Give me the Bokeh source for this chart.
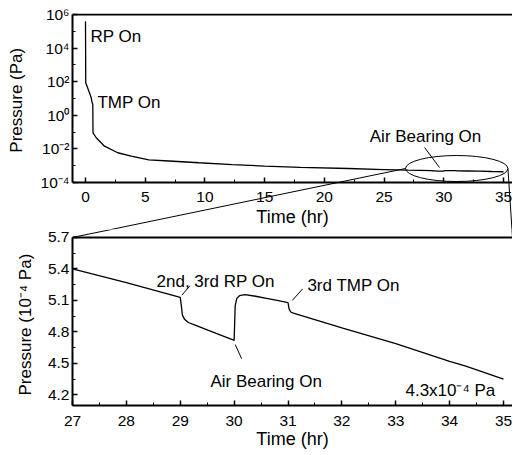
import math
from bokeh.plotting import figure
from bokeh.layouts import column
from bokeh.models import (Range1d, SingleIntervalTicker, FixedTicker,
                          CustomJSTickFormatter, Label)
from bokeh.embed import file_html
from bokeh.resources import INLINE

FONT = "Liberation Sans"

# ---------------- data ----------------
# pump-down, full run (Pa)
top_time = [0.0, 0.02, 0.33, 0.48, 0.53, 0.61, 0.63, 0.9, 1.59, 2.7, 3.83,
            5.3, 7.0, 9.5, 12.3, 15.0, 18.0, 22.0, 25.0]
top_pressure = [4e5, 86, 22, 11, 6.9, 4.4, 0.091, 0.046, 0.0145, 0.0059, 0.0037,
                0.0022, 0.0019, 0.0015, 0.00117, 0.00095, 0.00079, 0.00068, 0.00059]

# zoomed section 27-35 hr (units of 1e-4 Pa)
zoom_time = [27.0, 28.0, 29.0, 29.02, 29.04, 29.08, 29.15, 29.3, 29.5, 29.75, 29.98,
             30.0, 30.02, 30.05, 30.1, 30.2, 30.4, 30.6, 30.8, 31.0, 31.02, 31.05,
             31.1, 32.0, 33.0, 34.0, 34.3, 35.0]
zoom_pressure = [5.40, 5.27, 5.13, 5.05, 4.96, 4.92, 4.89, 4.86, 4.82, 4.77, 4.725,
                 4.72, 5.05, 5.12, 5.145, 5.155, 5.14, 5.12, 5.10, 5.08, 5.02, 4.99,
                 4.98, 4.84, 4.69, 4.52, 4.475, 4.35]

top_y_ticks = [1e-4, 1e-2, 1e0, 1e2, 1e4, 1e6]
top_y_labels = ["10\u207b\u2074", "10\u207b\u00b2", "10\u2070", "10\u00b2", "10\u2074", "10\u2076"]
top_y_minor = [1e-3, 1e-1, 1e1, 1e3, 1e5]
bot_y_ticks = [4.2, 4.5, 4.8, 5.1, 5.4, 5.7]
bot_y_labels = ["4.2", "4.5", "4.8", "5.1", "5.4", "5.7"]
bot_y_minor = [4.35, 4.65, 4.95, 5.25, 5.55]

# axis extents (shown part)
TX0, TX1 = -1.0885, 35.753
TY0, TY1 = 1e-4, 1e6
BX0, BX1 = 27.0, 35.167
BY0, BY1 = 4.1, 5.7

# zoom ellipse (annotation) in top panel
ell_x = (BX0 + BX1) / 2
ell_w = (BX1 - BX0) * 1.05
ell_p = 6.8e-4

# ---------------- geometry (page px) ----------------
FL, FW = 73, 440            # frame left / width (both panels)
T_TOP, T_BOT = 15, 183      # top panel axis box
B_TOP, B_BOT = 238, 408     # bottom panel axis box
SPLIT = 230                 # where the top canvas ends / bottom canvas begins
DEC = (T_BOT - T_TOP) / 10.0          # px per decade
UNIT = (B_BOT - B_TOP) / (BY1 - BY0)  # px per 1e-4 Pa

# ranges extended so the frames also cover the gap between panels
t_lo = 10 ** (math.log10(TY0) - (SPLIT - T_BOT) / DEC)
t_hi = 10 ** (math.log10(TY1) + 1 / DEC)
b_hi = BY1 + (B_TOP - SPLIT) / UNIT

NB = "\u00a0"


def top_px(t, p):
    return (FL + (t - TX0) / (TX1 - TX0) * FW,
            T_TOP + (math.log10(TY1) - math.log10(p)) * DEC)


def top_data(x, y):
    return (TX0 + (x - FL) / FW * (TX1 - TX0),
            10 ** (math.log10(TY1) - (y - T_TOP) / DEC))


def bot_px(t, v):
    return (FL + (t - BX0) / (BX1 - BX0) * FW, B_TOP + (BY1 - v) * UNIT)


def bot_data(x, y):
    return (BX0 + (x - FL) / FW * (BX1 - BX0), BY1 - (y - B_TOP) / UNIT)


def style_axes(p, label_size="15.5px"):
    for ax in list(p.xaxis) + list(p.yaxis):
        ax.axis_line_width = 2
        ax.axis_line_color = "black"
        ax.major_tick_in = 5
        ax.major_tick_out = 0
        ax.minor_tick_in = 3
        ax.minor_tick_out = 0
        ax.major_tick_line_width = 1.5
        ax.minor_tick_line_width = 1
        ax.major_label_text_font = FONT
        ax.major_label_text_font_size = label_size
        ax.major_label_text_color = "black"
        ax.axis_label_text_font = FONT
        ax.axis_label_text_font_size = "17px"
        ax.axis_label_text_font_style = "normal"
        ax.axis_label_text_color = "black"
    for ax in p.xaxis:
        ax.axis_label_text_font_size = "18px"


def label(p, x, y, text, align="left"):
    p.add_layout(Label(x=x, y=y, text=text, text_font=FONT, text_font_size="17px",
                       text_baseline="middle", text_align=align, text_color="black"))


def seg(p, x0, y0, x1, y1, w=1.0):
    p.segment(x0=[x0], y0=[y0], x1=[x1], y1=[y1], line_color="black", line_width=w)


# ---------------- top panel ----------------
p1 = figure(width=512, height=SPLIT - 1, x_range=Range1d(TX0, TX1), y_range=Range1d(t_lo, t_hi),
            y_axis_type="log", output_backend="svg", toolbar_location=None,
            min_border_left=FL - 1, min_border_right=0, min_border_top=T_TOP - 2,
            min_border_bottom=0)
p1.outline_line_color = None
p1.grid.visible = False
p1.background_fill_color = "white"
p1.border_fill_color = "white"

full_t = top_time + zoom_time
full_p = top_pressure + [v * 1e-4 for v in zoom_pressure]
p1.line(full_t, full_p, line_color="black", line_width=1.3)

p1.ellipse(x=[ell_x], y=[ell_p], width=ell_w, height=26, height_units="screen",
           fill_color=None, line_color="black", line_width=1)

style_axes(p1)
p1.xaxis.fixed_location = TY0
p1.xaxis.ticker = SingleIntervalTicker(interval=5, num_minor_ticks=2)
p1.xaxis.axis_label = "Time (hr)"
p1.xaxis.major_label_standoff = 9
p1.xaxis.axis_label_standoff = 2
p1.yaxis.bounds = (TY0, TY1)
p1.yaxis.ticker = FixedTicker(ticks=top_y_ticks, minor_ticks=top_y_minor)
p1.yaxis.formatter = CustomJSTickFormatter(
    args=dict(tvals=top_y_ticks, tlabels=top_y_labels),
    code="""
    for (let i = 0; i < tvals.length; i++) {
        if (Math.abs(Math.log10(tvals[i]) - Math.log10(tick)) < 1e-6) return tlabels[i];
    }
    return '';
    """)
# leading no-break spaces centre the label on the visible axis box (10^-4..10^6)
p1.yaxis.axis_label = NB * 9 + "Pressure (Pa)"
p1.yaxis.major_label_standoff = 3
p1.yaxis.axis_label_standoff = 12

# top border of the axis box
seg(p1, TX0, TY1, TX1, TY1, 2)

label(p1, 0.42, 4.9e4, "RP On")
label(p1, 1.0, 5.8, "TMP On")
label(p1, 28.47, 0.055, "Air Bearing On", align="center")
seg(p1, 28.39, 0.0121, 29.64, 7.8e-4)

# connectors (zoom lines): ellipse ends -> top corners of the lower axis box
ax_, ay_ = ell_x - ell_w / 2, ell_p
cx_, cy_ = ell_x + ell_w / 2, ell_p
A = top_px(ax_, ay_)
C = top_px(cx_, cy_)
B = bot_px(BX0, BY1)
D = bot_px(BX1, BY1)
bt = top_data(*B)
dt = top_data(*D)
seg(p1, ax_, ay_, bt[0], bt[1])
seg(p1, cx_, cy_, dt[0], dt[1])

# ---------------- bottom panel ----------------
p2 = figure(width=512, height=222, x_range=Range1d(BX0, BX1), y_range=Range1d(BY0, b_hi),
            output_backend="svg", toolbar_location=None,
            min_border_left=FL - 1, min_border_right=0, min_border_top=0,
            min_border_bottom=222 - (B_BOT - SPLIT))
p2.outline_line_color = None
p2.grid.visible = False
p2.background_fill_color = "white"
p2.border_fill_color = "white"

p2.line(zoom_time, zoom_pressure, line_color="black", line_width=1.3)

style_axes(p2)
p2.xaxis.ticker = SingleIntervalTicker(interval=1, num_minor_ticks=2)
p2.xaxis.axis_label = "Time (hr)"
p2.xaxis.major_label_standoff = 10
p2.xaxis.axis_label_standoff = 0
p2.yaxis.bounds = (BY0, BY1)
p2.yaxis.ticker = FixedTicker(ticks=bot_y_ticks, minor_ticks=bot_y_minor)
p2.yaxis.major_label_overrides = {t: l for t, l in zip(bot_y_ticks, bot_y_labels)}
p2.yaxis.axis_label = "Pressure (10\u207b\u2074 Pa)" + NB * 3
p2.yaxis.major_label_standoff = 3
p2.yaxis.axis_label_standoff = 10

seg(p2, BX0, BY1, BX1, BY1, 2)

label(p2, 28.56, 5.28, "2nd, 3rd RP On")
seg(p2, 29.18, 5.24, 29.03, 5.15)
label(p2, 29.56, 4.33, "Air Bearing On")
seg(p2, 30.02, 4.68, 30.14, 4.545)
label(p2, 31.36, 5.246, "3rd TMP On")
seg(p2, 31.08, 5.10, 31.27, 5.21)
label(p2, 33.18, 4.24, "4.3x10\u207b\u2074 Pa")

ab = bot_data(*A)
cb = bot_data(*C)
seg(p2, ab[0], ab[1], BX0, BY1)
seg(p2, cb[0], cb[1], BX1, BY1)

layout = column(p1, p2, spacing=0)
open("out.html", "w").write(file_html(layout, INLINE))
